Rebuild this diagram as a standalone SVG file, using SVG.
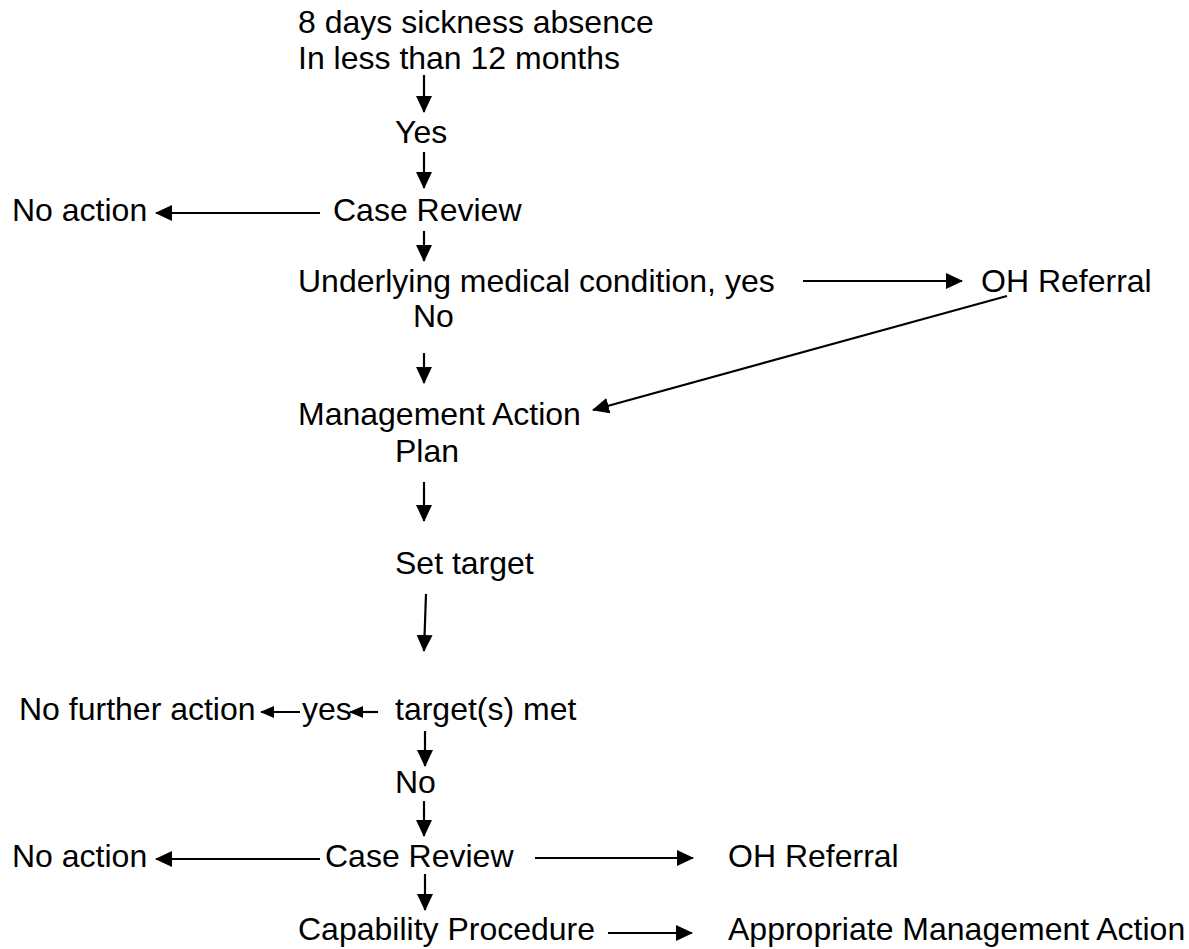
<svg xmlns="http://www.w3.org/2000/svg" width="1189" height="949" viewBox="0 0 1189 949">
<style>
text{font-family:"Liberation Sans",Arial,sans-serif;font-size:32px;fill:#000}
.c line{stroke:#000;stroke-width:2.2;fill:none}
.a{marker-end:url(#ah)}
.s{marker-end:url(#sh)}
</style>
<defs>
<marker id="ah" viewBox="0 0 17 16" refX="16" refY="8" markerWidth="17" markerHeight="16" markerUnits="userSpaceOnUse" orient="auto"><path d="M0,0 L17,8 L0,16 z" fill="#000"/></marker>
<marker id="sh" viewBox="0 0 14 12" refX="13" refY="6" markerWidth="14" markerHeight="12" markerUnits="userSpaceOnUse" orient="auto"><path d="M0,0 L14,6 L0,12 z" fill="#000"/></marker>
</defs>
<rect width="1189" height="949" fill="#fff"/>
<g id="n-start"><text x="298" y="33">8 days sickness absence</text><text x="298" y="69">In less than 12 months</text></g>
<g id="n-yes1"><text x="395" y="143">Yes</text></g>
<g id="n-case1"><text x="333" y="221">Case Review</text></g>
<g id="n-noaction1"><text x="12" y="221">No action</text></g>
<g id="n-underlying"><text x="298" y="292">Underlying medical condition, yes</text></g>
<g id="n-oh1"><text x="981" y="292">OH Referral</text></g>
<g id="n-no1"><text x="413" y="327">No</text></g>
<g id="n-map"><text x="298" y="425">Management Action</text><text x="395" y="462">Plan</text></g>
<g id="n-set"><text x="395" y="574">Set target</text></g>
<g id="n-met"><text x="395" y="720">target(s) met</text></g>
<g id="n-yes2"><text x="302" y="720">yes</text></g>
<g id="n-nofurther"><text x="19" y="720">No further action</text></g>
<g id="n-no2"><text x="395" y="793">No</text></g>
<g id="n-case2"><text x="325" y="867">Case Review</text></g>
<g id="n-noaction2"><text x="12" y="867">No action</text></g>
<g id="n-oh2"><text x="728" y="867">OH Referral</text></g>
<g id="n-cap"><text x="298" y="940">Capability Procedure</text></g>
<g id="n-ama"><text x="728" y="940">Appropriate Management Action</text></g>
<g id="connectors" class="c">
<line class="a" x1="424" y1="75" x2="424" y2="112"/>
<line class="a" x1="424" y1="152" x2="424" y2="188"/>
<line class="a" x1="320" y1="213" x2="156" y2="213"/>
<line class="a" x1="424" y1="231" x2="424" y2="261"/>
<line class="a" x1="803" y1="281" x2="962" y2="281"/>
<line class="a" x1="1007" y1="296" x2="593" y2="410"/>
<line class="a" x1="424" y1="353" x2="424" y2="383"/>
<line class="a" x1="424" y1="482" x2="424" y2="521"/>
<line class="a" x1="426" y1="594" x2="424" y2="651"/>
<line class="s" x1="378" y1="712" x2="350" y2="712"/>
<line class="s" x1="300" y1="712" x2="261" y2="712"/>
<line class="a" x1="425" y1="731" x2="425" y2="766"/>
<line class="a" x1="424" y1="801" x2="424" y2="836"/>
<line class="a" x1="320" y1="859" x2="156" y2="859"/>
<line class="a" x1="535" y1="858" x2="693" y2="858"/>
<line class="a" x1="425" y1="874" x2="425" y2="910"/>
<line class="a" x1="608" y1="933" x2="692" y2="933"/>
</g>
</svg>
